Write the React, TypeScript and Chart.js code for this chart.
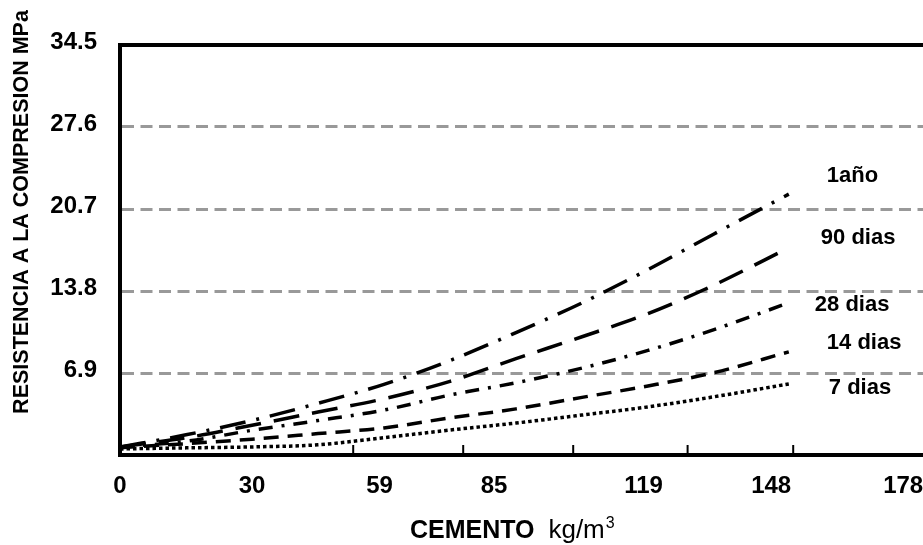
import React, { useEffect, useRef } from 'react';
import { Chart, registerables } from 'chart.js';

Chart.register(...registerables);

// ---- data ----
const xCement = [0, 15, 30, 45, 60, 75, 90, 105, 120, 135, 152];
const oneYear = [0.67, 1.7, 2.9, 4.35, 5.95, 7.95, 10.3, 12.8, 15.6, 18.6, 21.95];
const ninetyDays = [0.67, 1.45, 2.5, 3.62, 4.73, 6.2, 8.11, 9.95, 11.9, 14.3, 17.44];
const twentyEightDays = [0.67, 1.15, 2.08, 2.9, 3.78, 5.05, 6.08, 7.31, 8.8, 10.55, 12.81];
const fourteenDays = [0.62, 0.95, 1.33, 1.8, 2.28, 3.12, 3.88, 4.85, 5.81, 6.93, 8.68];
const sevenDays = [0.51, 0.6, 0.68, 0.86, 1.46, 2.1, 2.69, 3.36, 4.05, 4.9, 5.98];
const seriesNames = ['1año', '90 dias', '28 dias', '14 dias', '7 dias'];
const seriesValues = [oneYear, ninetyDays, twentyEightDays, fourteenDays, sevenDays];
const xTickLabels = [0, 30, 59, 85, 119, 148, 178];
const xMinorTicks = [53, 78, 103, 129, 153];
const yTickValues = [6.9, 13.8, 20.7, 27.6, 34.5];
const yTitle = 'RESISTENCIA A LA COMPRESION MPa';
const xTitleMain = 'CEMENTO';
const xTitleUnit = 'kg/m';
const xTitleSup = '3';

// ---- styles ----
const FONT = 'Arial, "Liberation Sans", sans-serif';
const CANVAS_W = 956;
const CANVAS_H = 545;
const X_MAX = 190;
const Y_MAX = 34.5;
const dashPatterns = [
  [26, 11, 3, 11],
  [26, 13],
  [14, 9, 3, 9],
  [15, 9],
  [3.5, 3],
];
const labelOffsets = [
  [38, -18],
  [32, -10],
  [26, 2],
  [38, -9],
  [40, 4],
];

const decorPlugin = {
  id: 'decor',
  afterDraw(chart: any) {
    const { ctx, chartArea: a, scales } = chart;
    ctx.save();
    // top frame line
    ctx.strokeStyle = '#000';
    ctx.lineWidth = 4;
    ctx.setLineDash([]);
    ctx.beginPath();
    ctx.moveTo(a.left - 2, a.top);
    ctx.lineTo(a.right, a.top);
    ctx.stroke();
    // small inner tick marks on the x axis
    ctx.lineWidth = 2;
    xMinorTicks.forEach((v) => {
      const x = scales.x.getPixelForValue(v);
      ctx.beginPath();
      ctx.moveTo(x, a.bottom);
      ctx.lineTo(x, a.bottom - 10);
      ctx.stroke();
    });
    // curve labels
    ctx.fillStyle = '#000';
    ctx.font = `bold 22px ${FONT}`;
    ctx.textAlign = 'left';
    ctx.textBaseline = 'middle';
    chart.data.datasets.forEach((ds: any, i: number) => {
      const meta = chart.getDatasetMeta(i);
      const pt = meta.data[meta.data.length - 1];
      ctx.fillText(ds.label, pt.x + labelOffsets[i][0], pt.y + labelOffsets[i][1]);
    });
    // y title
    ctx.save();
    ctx.translate(28, 212);
    ctx.rotate(-Math.PI / 2);
    ctx.font = `bold 21.5px ${FONT}`;
    ctx.textAlign = 'center';
    ctx.textBaseline = 'alphabetic';
    ctx.fillText(yTitle, 0, 0);
    ctx.restore();
    // x title
    ctx.textAlign = 'left';
    ctx.textBaseline = 'alphabetic';
    const x0 = 410;
    const base = 538;
    ctx.font = `bold 25px ${FONT}`;
    ctx.fillText(xTitleMain, x0, base);
    const w1 = ctx.measureText(xTitleMain + '  ').width;
    ctx.font = `26px ${FONT}`;
    ctx.fillText(xTitleUnit, x0 + w1, base);
    const w2 = ctx.measureText(xTitleUnit).width;
    ctx.font = `16px ${FONT}`;
    ctx.fillText(xTitleSup, x0 + w1 + w2 + 1, base - 10);
    ctx.restore();
  },
};

export default function App() {
  const ref = useRef<HTMLCanvasElement>(null);
  useEffect(() => {
    if (!ref.current) return;
    const chart = new Chart(ref.current, {
      type: 'line',
      data: {
        datasets: seriesValues.map((vals, i) => ({
          label: seriesNames[i],
          data: vals.map((y, j) => ({ x: xCement[j], y })),
          borderColor: '#000',
          borderWidth: 3.5,
          borderDash: dashPatterns[i],
          pointRadius: 0,
          fill: false,
          cubicInterpolationMode: 'monotone',
        })),
      },
      options: {
        responsive: false,
        animation: false,
        layout: { padding: { left: 0, right: 0, top: 45, bottom: 0 } },
        plugins: {
          legend: { display: false },
          tooltip: { enabled: false },
          title: { display: false },
        },
        scales: {
          x: {
            type: 'linear',
            min: 0,
            max: X_MAX,
            afterBuildTicks: (s: any) => {
              s.ticks = xTickLabels.map((v) => ({ value: v }));
            },
            afterFit: (s: any) => {
              s.height = 90;
            },
            grid: { display: false, drawTicks: false },
            border: { display: true, color: '#000', width: 4 },
            ticks: {
              color: '#000',
              font: { family: FONT, size: 24, weight: 'bold' },
              padding: 17,
              maxRotation: 0,
              autoSkip: false,
              callback: (v: any) => String(v),
            },
          },
          y: {
            type: 'linear',
            min: 0,
            max: Y_MAX,
            afterBuildTicks: (s: any) => {
              s.ticks = yTickValues.map((v) => ({ value: v }));
            },
            afterFit: (s: any) => {
              s.width = 120;
            },
            grid: { color: '#999', lineWidth: 3, drawTicks: false },
            border: { display: true, color: '#000', width: 4, dash: [12, 6.5] },
            ticks: {
              color: '#000',
              font: { family: FONT, size: 24, weight: 'bold' },
              padding: 23,
              labelOffset: -3,
              callback: (v: any) => String(v),
            },
          },
        },
      },
      plugins: [decorPlugin],
    } as any);
    return () => chart.destroy();
  }, []);
  return (
    <div
      style={{
        position: 'fixed',
        left: 0,
        top: 0,
        width: 923,
        height: 545,
        overflow: 'hidden',
        background: '#fff',
      }}
    >
      <canvas ref={ref} width={CANVAS_W} height={CANVAS_H} style={{ display: 'block' }} />
    </div>
  );
}
